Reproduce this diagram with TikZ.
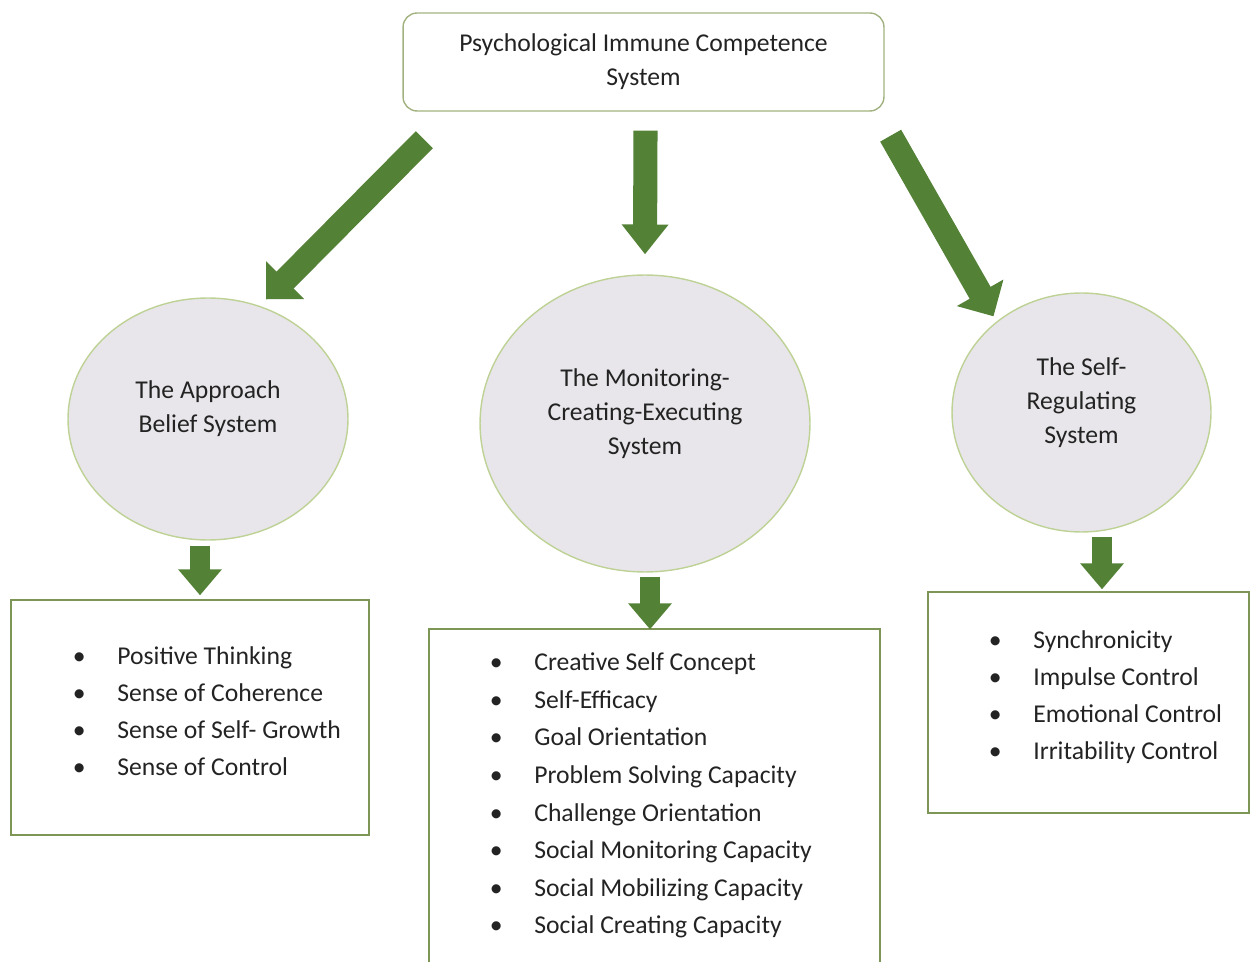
\documentclass[tikz,border=0pt]{standalone}
\usepackage{fontspec}
\setmainfont{Carlito}
\usetikzlibrary{shapes.geometric,arrows.meta}

\definecolor{arrowgreen}{RGB}{83,129,53}
\definecolor{boxgreen}{RGB}{125,150,85}
\definecolor{ringgreen}{RGB}{190,210,150}
\definecolor{ringfill}{RGB}{232,230,234}
\definecolor{txt}{RGB}{35,35,35}

\newcommand\itembullet{\llap{\textbullet\hspace{18pt}}}

\begin{document}
\begin{tikzpicture}[x=0.02cm, y=-0.02cm,
    every node/.style={text=txt, font=\fontsize{14.6pt}{19.4pt}\selectfont, align=center},
    topbox/.style={draw=ringgreen!85!black, rounded corners=8pt, line width=0.8pt,
        minimum width=9.62cm, minimum height=1.96cm},
    ring/.style={ellipse, draw=ringgreen, fill=ringfill, line width=0.8pt, text depth=14pt},
    listbox/.style={draw=boxgreen, line width=0.8pt},
    item/.style={anchor=base west, inner sep=0pt},
    bigarrow/.style={draw=arrowgreen, line width=13.7pt, -{Triangle[width=29.6pt, length=15.4pt]}},
    midarrow/.style={draw=arrowgreen, line width=13.7pt, -{Triangle[width=25.6pt, length=17pt]}},
    smallarrow/.style={draw=arrowgreen, line width=11.4pt, -{Triangle[width=24pt, length=14.8pt]}}]
    \useasboundingbox (0,0) rectangle (1251,962);
    \clip (0,0) rectangle (1251,962);

    % Oberer Kasten
    \node[topbox] (psych) at (643.5,62) {Psychological Immune Competence\\System};

    % Die drei Systeme
    \node[ring, minimum width=5.6cm, minimum height=4.84cm] (approach) at (208,419)
        {The Approach\\Belief System};
    \node[ring, minimum width=6.6cm, minimum height=5.94cm] (monitor) at (645,423.5)
        {The Monitoring-\\Creating-Executing\\System};
    \node[ring, minimum width=5.18cm, minimum height=4.78cm] (selfreg) at (1081.5,412.5)
        {The Self-\\Regulating\\System};

    % Listenkaesten
    \node[listbox, minimum width=7.16cm, minimum height=4.7cm] (approachlist) at (190,717.5) {};
    \node[listbox, minimum width=9.02cm, minimum height=6.9cm] (monitorlist) at (654.5,801.5) {};
    \node[listbox, minimum width=6.42cm, minimum height=4.42cm] (selfreglist) at (1088.5,702.5) {};

    % Punkte
    \foreach \t [count=\i] in {Positive Thinking, Sense of Coherence,
        Sense of Self- Growth, Sense of Control}
        \node[item] (ap\i) at (117, 627+37*\i) {\itembullet\t};
    \foreach \t [count=\i] in {Creative Self Concept, Self-Efficacy, Goal Orientation,
        Problem Solving Capacity, Challenge Orientation, Social Monitoring Capacity,
        Social Mobilizing Capacity, Social Creating Capacity}
        \node[item] (mo\i) at (534, 633+37.6*\i) {\itembullet\t};
    \foreach \t [count=\i] in {Synchronicity, Impulse Control, Emotional Control,
        Irritability Control}
        \node[item] (sr\i) at (1033, 612+36.9*\i) {\itembullet\t};

    % Pfeile
    \draw[bigarrow] ([shift={(22,28)}]psych.south west) -- ([shift={(58,2)}]approach.north);
    \draw[midarrow] ([shift={(2,19)}]psych.south) -- ([shift={(0,-20)}]monitor.north);
    \draw[bigarrow] ([shift={(6,24)}]psych.south east) -- ([shift={(-88,24)}]selfreg.north);

    \draw[smallarrow] ([shift={(-8,5)}]approach.south) -- ([shift={(10,-4)}]approachlist.north);
    \draw[smallarrow] ([shift={(5,4)}]monitor.south) -- ([shift={(-4.5,1)}]monitorlist.north);
    \draw[smallarrow] ([shift={(20.5,4)}]selfreg.south) -- ([shift={(13.5,-2)}]selfreglist.north);
\end{tikzpicture}
\end{document}
